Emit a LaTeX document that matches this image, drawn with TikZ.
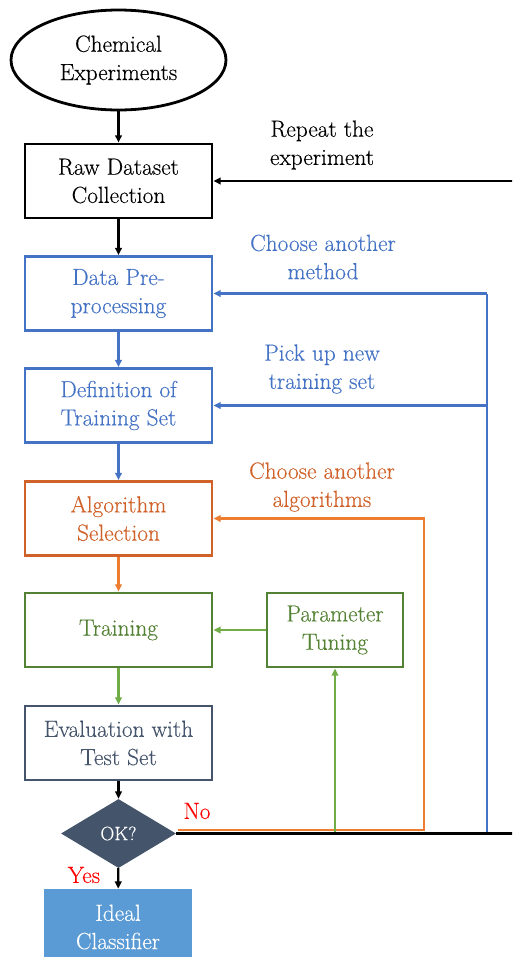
\documentclass[tikz,border=0pt]{standalone}
\usepackage{fontspec}
\newfontfamily\tnr{Latin Modern Roman}[FakeBold=0.3]
\usetikzlibrary{shapes.geometric,arrows.meta}
\definecolor{cblue}{HTML}{4472C4}
\definecolor{corangebox}{HTML}{CF6129}
\definecolor{corange}{HTML}{ED7D31}
\definecolor{cgreenbox}{HTML}{548235}
\definecolor{cgreen}{HTML}{70AD47}
\definecolor{cslate}{HTML}{44546A}
\definecolor{cideal}{HTML}{5B9BD5}
\definecolor{cred}{HTML}{FF0000}
\tikzset{
  txt/.style={font=\tnr\fontsize{17.5pt}{21.2pt}\selectfont, align=center},
  box/.style={txt, draw, line width=2.1pt, minimum width=140.25pt, minimum height=55.5pt, inner sep=0pt},
  conn/.style={line width=1.6pt, -{Triangle[length=5.5pt,width=5pt]}},
  plain/.style={line width=1.6pt},
}
\begin{document}
\begin{tikzpicture}[x=0.75pt,y=-0.75pt]
\useasboundingbox (0,0) rectangle (512,957);
\clip (0,0) rectangle (512,957);
% nodes
\node[txt, draw, ellipse, line width=2.1pt, minimum width=161.25pt, minimum height=75pt, inner sep=0pt] (chem) at (118.5,60) {Chemical\\Experiments};
\node[box] (raw) at (118.5,181) {Raw Dataset\\Collection};
\node[box, draw=cblue, text=cblue] (dp) at (118.5,293.5) {Data Pre-\\processing};
\node[box, draw=cblue, text=cblue] (def) at (118.5,405.5) {Definition of\\Training Set};
\node[box, draw=corangebox, text=corangebox] (alg) at (118.5,518.5) {Algorithm\\Selection};
\node[box, draw=cgreenbox, text=cgreenbox] (tr) at (118.5,630) {Training};
\node[box, draw=cgreenbox, text=cgreenbox, minimum width=102pt] (par) at (335,630) {Parameter\\Tuning};
\node[box, draw=cslate, text=cslate] (ev) at (118.5,743) {Evaluation with\\Test Set};
\node[diamond, fill=cslate, text=white, font=\tnr\fontsize{14.5pt}{18pt}\selectfont, minimum width=86.25pt, minimum height=51.75pt, inner sep=0pt, aspect=1.67] (ok) at (118.5,833.5) {OK?};
\node[txt, fill=cideal, text=white, minimum width=111pt, minimum height=57pt, inner sep=0pt] (ideal) at (118,927) {Ideal\\Classifier};
% labels
\node[txt] (lrep) at (322,145) {Repeat the\\experiment};
\node[txt, text=cblue] (lmeth) at (323,257) {Choose another\\method};
\node[txt, text=cblue] (lpick) at (322,369) {Pick up new\\training set};
\node[txt, text=corangebox] (lalg) at (322,487) {Choose another\\algorithms};
\node[txt, text=cred] (lno) at (197,811) {No};
\node[txt, text=cred] (lyes) at (84,875) {Yes};
% main flow
\draw[conn] (chem) -- (raw);
\draw[conn] (raw) -- (dp);
\draw[conn, cblue] (dp) -- (def);
\draw[conn, cblue] (def) -- (alg);
\draw[conn, corange] (alg) -- (tr);
\draw[conn, cgreen] (tr) -- (ev);
\draw[conn] (ev) -- (ok);
\draw[conn] (ok) -- (ideal);
\draw[conn, cgreen] (par) -- (tr);
% feedback loops
\coordinate (oS) at (178,830);
\coordinate (oC) at (424,830);
\coordinate (bB) at (487,833.5);
\coordinate (kR) at (516,833.5);
\draw[conn, corange] (oS) -- (oC) |- (alg.east);
\draw[conn, cgreen] (par.south |- ok.east) -- (par.south);
\draw[plain, cblue, line width=2.1pt] (bB) -- (bB |- dp.east);
\draw[conn, cblue] (bB |- dp.east) -- (dp.east);
\draw[conn, cblue] (bB |- def.east) -- (def.east);
\draw[conn] (ok.east) -- (kR) |- (raw.east);
\end{tikzpicture}
\end{document}
